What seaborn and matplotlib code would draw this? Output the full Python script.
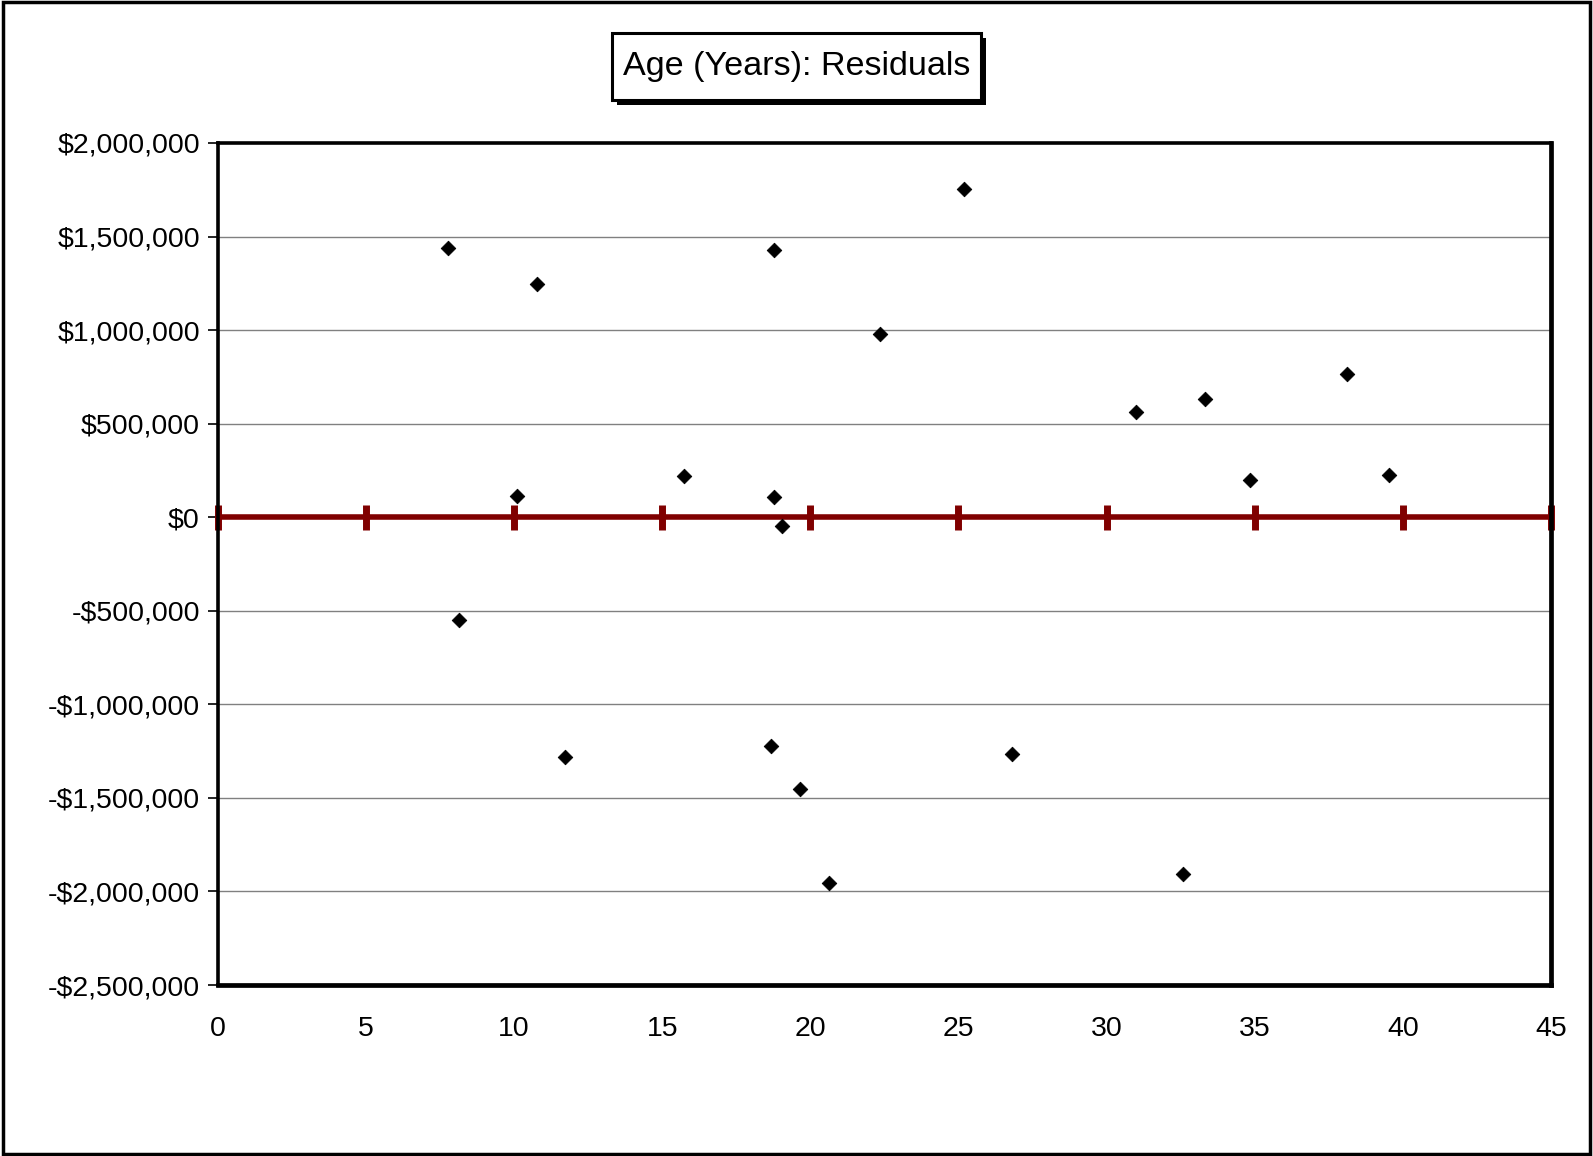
import numpy as np
import pandas as pd
import matplotlib
matplotlib.use("Agg")
import matplotlib.pyplot as plt
import matplotlib.ticker as mticker
from matplotlib.patches import Rectangle
import seaborn as sns

# Residuals of sale price vs age (years)
age_years = [7.78, 8.13, 10.08, 10.77, 11.73, 15.74, 18.66, 18.76, 18.76, 19.03, 19.65,
             20.64, 22.36, 25.17, 26.82, 31.0, 32.58, 33.33, 34.84, 38.10, 39.54]
residuals = [1440000, -549000, 114000, 1245000, -1283000, 223000, -1223000, 1429000, 109000,
             -49000, -1451000, -1957000, 978000, 1755000, -1266000, 565000, -1908000,
             630000, 201000, 766000, 228000]

x_ticks = [0, 5, 10, 15, 20, 25, 30, 35, 40, 45]
y_ticks = [-2500000, -2000000, -1500000, -1000000, -500000, 0, 500000, 1000000, 1500000, 2000000]

df = pd.DataFrame({"age": age_years, "residual": residuals})
zero_df = pd.DataFrame({"x": x_ticks, "y": [0] * len(x_ticks)})

sns.set_theme(style="white")
plt.rcParams["font.family"] = ["Liberation Sans", "DejaVu Sans"]

fig = plt.figure(figsize=(15.93, 11.56), dpi=100)
ax = fig.add_axes([0.1368, 0.1479, 0.9736 - 0.1368, 0.8763 - 0.1479])

# horizontal gridlines
for v in y_ticks[1:-1]:
    ax.axhline(v, color="#808080", lw=1, zorder=1)

# zero line with tick marks at each x tick
sns.lineplot(
    data=zero_df, x="x", y="y",
    color="#800000", lw=4, marker="|", markersize=18,
    markeredgewidth=5, markeredgecolor="#800000",
    ax=ax, zorder=2, clip_on=False,
)

sns.scatterplot(
    data=df, x="age", y="residual",
    marker="D", s=55, color="black", edgecolor="black",
    ax=ax, zorder=3,
)

ax.set_xlim(0, 45)
ax.set_ylim(-2500000, 2000000)
ax.set_xticks(x_ticks)
ax.set_yticks(y_ticks)


def money(v, pos):
    if v < 0:
        return "-${:,.0f}".format(-v)
    return "${:,.0f}".format(v)


ax.yaxis.set_major_formatter(mticker.FuncFormatter(money))
ax.tick_params(axis="y", which="major", left=True, length=7, width=1.2,
               color="black", labelsize=20.5, pad=6, labelcolor="black")
ax.tick_params(axis="x", which="major", bottom=False, labelsize=20.5, pad=16,
               labelcolor="black")
ax.set_xlabel("")
ax.set_ylabel("")

for side in ["left", "top", "right", "bottom"]:
    ax.spines[side].set_visible(True)
    ax.spines[side].set_color("black")
    ax.spines[side].set_linewidth(2.6)
ax.spines["right"].set_linewidth(3.4)
ax.spines["bottom"].set_linewidth(3.4)

# outer frame around the figure
fig.patches.append(Rectangle((0.002, 0.002), 0.996, 0.996, transform=fig.transFigure,
                             fill=False, edgecolor="black", lw=2.5))

# title box with a drop shadow
bx, by, bw, bh = 0.3842, 0.9135, 0.2316, 0.058
fig.patches.append(Rectangle((bx + 0.0032, by - 0.0044), bw, bh, transform=fig.transFigure,
                             fc="black", ec="black", lw=0, zorder=4))
fig.patches.append(Rectangle((bx, by), bw, bh, transform=fig.transFigure,
                             fc="white", ec="black", lw=2.2, zorder=5))
fig.text(bx + bw / 2, by + bh / 2, "Age (Years): Residuals", ha="center", va="center",
         fontsize=24.6, color="black", zorder=6)

plt.savefig("out.png", dpi=100)
